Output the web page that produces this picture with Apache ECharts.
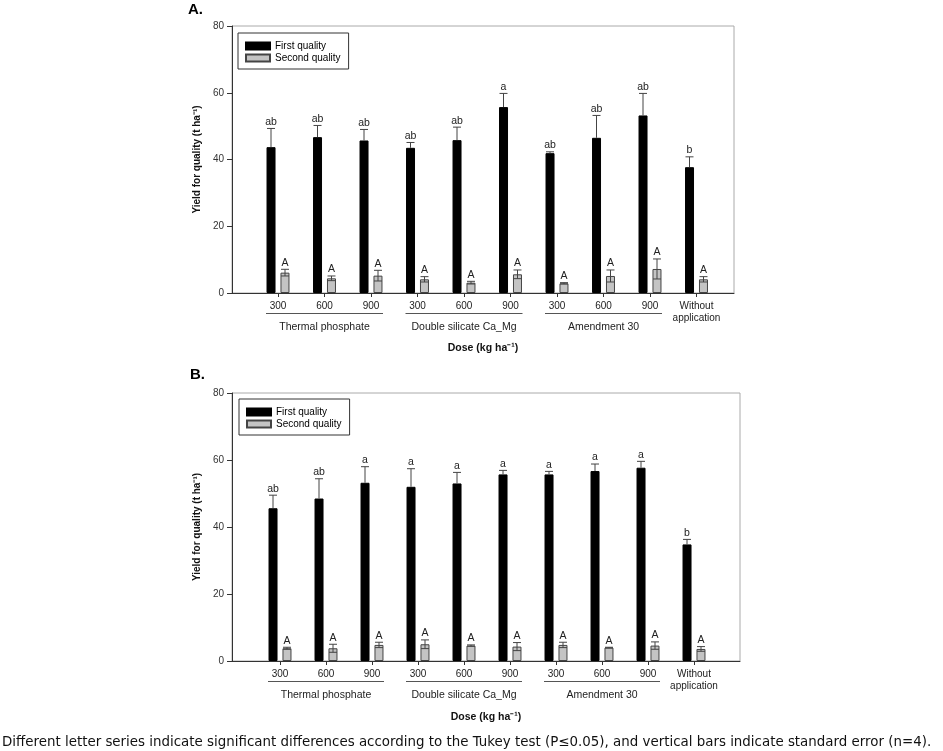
<!DOCTYPE html>
<html>
<head>
<meta charset="utf-8">
<script src="https://cdn.jsdelivr.net/npm/echarts@6/dist/echarts.min.js"></script>
<style>
html,body{margin:0;padding:0;background:#fff;}
#c{width:943px;height:751px;}
</style>
</head>
<body>
<div id="c"></div>
<script>
// ---------------- data ----------------
const doseLabels = ['300','600','900','300','600','900','300','600','900','Without\napplication'];
const groupNames = ['Thermal phosphate','Double silicate Ca_Mg','Amendment 30'];
const groupSpans = [[0,2],[3,5],[6,8]];
const seriesNames = ['First quality','Second quality'];

// Panel A
const firstA    = [43.7, 46.7, 45.7, 43.5, 45.8, 55.7, 41.9, 46.5, 53.2, 37.7];
const firstA_se = [5.6, 3.5, 3.3, 1.6, 3.9, 4.1, 0.4, 6.7, 6.6, 3.1];
const secondA    = [6.1, 4.4, 5.2, 4.1, 3.1, 5.6, 2.9, 5.1, 7.2, 4.1];
const secondA_se = [1.0, 0.7, 1.6, 0.8, 0.4, 1.3, 0.2, 1.8, 3.0, 0.8];
const lettersFirstA  = ['ab','ab','ab','ab','ab','a','ab','ab','ab','b'];
const lettersSecondA = ['A','A','A','A','A','A','A','A','A','A'];

// Panel B
const firstB    = [45.6, 48.5, 53.2, 52.0, 53.0, 55.7, 55.7, 56.7, 57.7, 34.8];
const firstB_se = [3.9, 5.9, 4.8, 5.4, 3.3, 1.2, 0.9, 2.1, 1.9, 1.5];
const secondB    = [3.8, 3.8, 4.8, 5.0, 4.6, 4.3, 4.8, 4.0, 4.6, 3.6];
const secondB_se = [0.3, 1.2, 0.8, 1.3, 0.2, 1.2, 0.8, 0.1, 1.1, 0.7];
const lettersFirstB  = ['ab','ab','a','a','a','a','a','a','a','b'];
const lettersSecondB = ['A','A','A','A','A','A','A','A','A','A'];

const yMin = 0, yMax = 80, yStep = 20;

// ---------------- chart ----------------
const FONT = '"Liberation Sans", Arial, sans-serif';
const chart = echarts.init(document.getElementById('c'), null, {renderer: 'canvas'});

const BAR_W = 9, OFF = 7;

function errSeries(axisIdx, means, ses, letters, offset, full) {
  return {
    type: 'custom',
    xAxisIndex: axisIdx, yAxisIndex: axisIdx,
    z: 10,
    silent: true,
    data: means.map((v, i) => [i, v, ses[i]]),
    encode: {x: 0, y: 1},
    renderItem: function (params, api) {
      const i = api.value(0), m = api.value(1), s = api.value(2);
      const c = api.coord([i, m]);
      const x = c[0] + offset;
      const yt = api.coord([i, m + s])[1];
      const yb = full ? api.coord([i, m - s])[1] : c[1];
      const half = 4;
      const ls = {stroke: '#444', lineWidth: 1};
      const kids = [
        {type: 'line', shape: {x1: x, y1: yt, x2: x, y2: yb}, style: ls},
        {type: 'line', shape: {x1: x - half, y1: yt, x2: x + half, y2: yt}, style: ls},
        {type: 'text', style: {text: letters[params.dataIndex], x: x, y: yt - 1,
          textAlign: 'center', textVerticalAlign: 'bottom',
          font: '10.5px ' + FONT, fill: '#222'}}
      ];
      if (full) kids.push({type: 'line', shape: {x1: x - half, y1: yb, x2: x + half, y2: yb}, style: ls});
      return {type: 'group', children: kids};
    }
  };
}

function boxAxisX(nameGap) {
  return {
    type: 'value', min: 0, max: 1,
    axisLine: {show: true, lineStyle: {color: '#333', width: 1}},
    axisTick: {show: false}, axisLabel: {show: false}, splitLine: {show: false},
    name: 'Dose (kg ha\u207B\u00B9)', nameLocation: 'middle', nameGap: nameGap,
    nameTextStyle: {fontSize: 10.5, fontWeight: 'bold', color: '#111', fontFamily: FONT}
  };
}
function boxAxisY(idx) {
  return {
    gridIndex: idx, type: 'value', min: yMin, max: yMax, interval: yStep,
    axisLine: {show: true, lineStyle: {color: '#333', width: 1}},
    axisTick: {show: true, inside: false, length: 5, lineStyle: {color: '#333'}},
    axisLabel: {fontSize: 10, color: '#333', margin: 8, fontFamily: FONT},
    splitLine: {show: false},
    name: 'Yield for quality (t ha\u207B\u00B9)', nameLocation: 'middle', nameGap: 28,
    nameRotate: 90,
    nameTextStyle: {fontSize: 10, fontWeight: 'bold', color: '#111', fontFamily: FONT}
  };
}
function dataAxisX(idx) {
  return {
    gridIndex: idx, type: 'category', data: doseLabels, boundaryGap: true,
    axisLine: {show: false},
    axisTick: {show: true, alignWithLabel: true, length: 4, lineStyle: {color: '#333'}},
    axisLabel: {fontSize: 10, color: '#222', margin: 7, lineHeight: 12, interval: 0, fontFamily: FONT},
    splitLine: {show: false}
  };
}
function dataAxisY(idx) {
  return {gridIndex: idx, type: 'value', min: yMin, max: yMax, interval: yStep, show: false};
}
function legendAt(left, top) {
  return {
    data: seriesNames.map(n => ({name: n, icon: 'rect'})), orient: 'vertical', left: left, top: top,
    borderColor: '#333', borderWidth: 1, padding: [8, 8, 6, 7],
    itemWidth: 24, itemHeight: 7, itemGap: 2, selectedMode: false,
    textStyle: {fontSize: 10, color: '#000', fontFamily: FONT}
  };
}

const option = {
  animation: false,
  backgroundColor: '#fff',
  textStyle: {fontFamily: FONT},
  grid: [
    {left: 232, top: 26, width: 502, height: 267, show: true, borderColor: '#aaa', borderWidth: 1, backgroundColor: 'transparent'},
    {left: 254.75, top: 26, width: 465, height: 267},
    {left: 232, top: 393, width: 508, height: 268, show: true, borderColor: '#aaa', borderWidth: 1, backgroundColor: 'transparent'},
    {left: 257, top: 393, width: 460, height: 268}
  ],
  xAxis: [
    Object.assign({gridIndex: 0}, boxAxisX(50)),
    dataAxisX(1),
    Object.assign({gridIndex: 2}, boxAxisX(51)),
    dataAxisX(3)
  ],
  yAxis: [boxAxisY(0), dataAxisY(1), boxAxisY(2), dataAxisY(3)],
  legend: [legendAt(238, 33), legendAt(239, 399)],
  series: [
    {name: seriesNames[0], type: 'bar', xAxisIndex: 1, yAxisIndex: 1, data: firstA, barWidth: BAR_W, barGap: '55%',
      itemStyle: {color: '#000', borderColor: '#000', borderWidth: 1}},
    {name: seriesNames[1], type: 'bar', xAxisIndex: 1, yAxisIndex: 1, data: secondA, barWidth: BAR_W, barGap: '55%',
      itemStyle: {color: '#c4c4c4', borderColor: '#444', borderWidth: 1}},
    {name: seriesNames[0], type: 'bar', xAxisIndex: 3, yAxisIndex: 3, data: firstB, barWidth: BAR_W, barGap: '55%',
      itemStyle: {color: '#000', borderColor: '#000', borderWidth: 1}},
    {name: seriesNames[1], type: 'bar', xAxisIndex: 3, yAxisIndex: 3, data: secondB, barWidth: BAR_W, barGap: '55%',
      itemStyle: {color: '#c4c4c4', borderColor: '#444', borderWidth: 1}},
    errSeries(1, firstA, firstA_se, lettersFirstA, -OFF, false),
    errSeries(1, secondA, secondA_se, lettersSecondA, OFF, true),
    errSeries(3, firstB, firstB_se, lettersFirstB, -OFF, false),
    errSeries(3, secondB, secondB_se, lettersSecondB, OFF, true)
  ]
};
chart.setOption(option);

// group annotations computed from the category axis scale
function groupGraphics(axisIdx) {
  const out = [];
  const yAxisPx = chart.convertToPixel({yAxisIndex: axisIdx}, 0);
  groupSpans.forEach(function (sp, g) {
    const x0 = chart.convertToPixel({xAxisIndex: axisIdx}, sp[0]);
    const x1 = chart.convertToPixel({xAxisIndex: axisIdx}, sp[1]);
    const xm = chart.convertToPixel({xAxisIndex: axisIdx}, Math.round((sp[0] + sp[1]) / 2));
    out.push({type: 'line', silent: true,
      shape: {x1: x0 - 12, y1: yAxisPx + 20.5, x2: x1 + 12, y2: yAxisPx + 20.5},
      style: {stroke: '#555', lineWidth: 1}});
    out.push({type: 'text', silent: true, x: xm, y: yAxisPx + 34,
      style: {text: groupNames[g], textAlign: 'center', textVerticalAlign: 'middle',
        font: '10.5px ' + FONT, fill: '#222'}});
  });
  return out;
}

const graphics = [].concat(groupGraphics(1), groupGraphics(3));
graphics.push({type: 'text', x: 188, y: 9.5, style: {text: 'A.', font: 'bold 15px ' + FONT, fill: '#000', textVerticalAlign: 'middle'}});
graphics.push({type: 'text', x: 190, y: 374.5, style: {text: 'B.', font: 'bold 15px ' + FONT, fill: '#000', textVerticalAlign: 'middle'}});
graphics.push({type: 'text', x: 2, y: 743, style: {
  text: 'Different letter series indicate significant differences according to the Tukey test (P\u22640.05), and vertical bars indicate standard error (n=4).',
  font: '13.4px "DejaVu Sans", Verdana, sans-serif', fill: '#111', textVerticalAlign: 'middle'}});
chart.setOption({graphic: graphics});
</script>
</body>
</html>
